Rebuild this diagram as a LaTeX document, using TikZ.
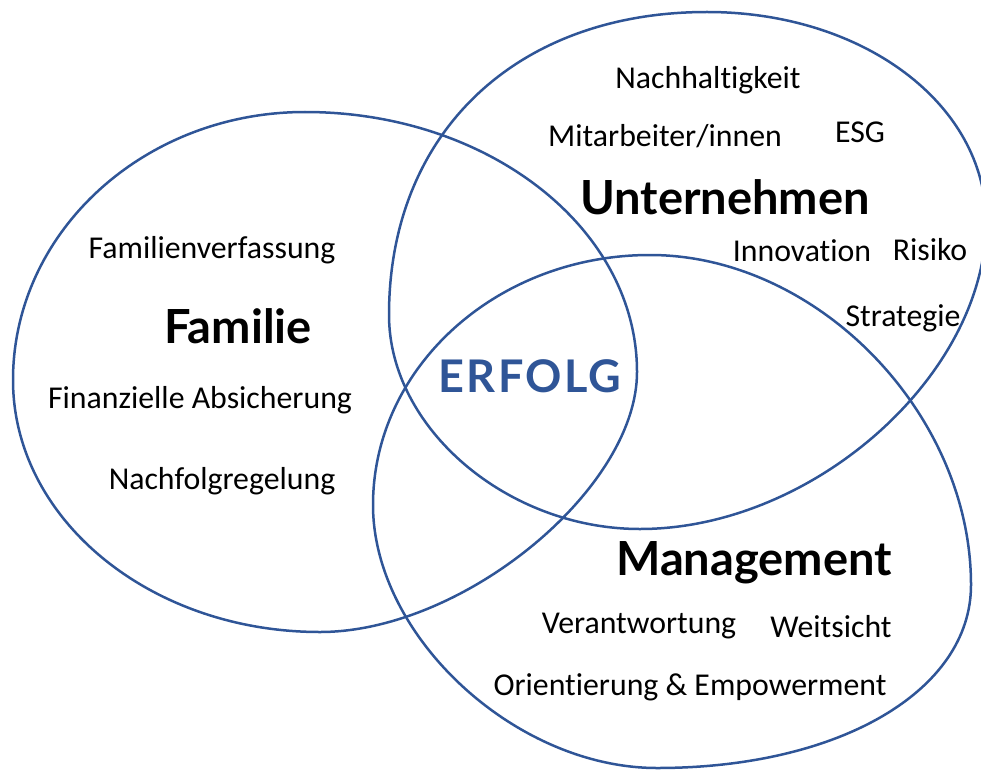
\documentclass[tikz,border=0pt]{standalone}
\usepackage{fontspec}
\setmainfont{Carlito}[Ligatures=NoCommon]
\newfontfamily\headfont{Lato}
\newfontfamily\erfolgfont{Lato}[LetterSpace=5]
\usetikzlibrary{positioning}
\definecolor{kreisblau}{RGB}{47,85,151}

\begin{document}
\begin{tikzpicture}[x=1pt,y=-1pt,
  kreis/.style={draw=kreisblau,line width=2.5pt,line join=round},
  begriff/.style={font=\fontsize{31.8}{36}\selectfont,inner sep=0pt},
  bereich/.style={font=\headfont\bfseries\fontsize{47}{52}\selectfont,inner sep=0pt}]
\useasboundingbox (0,0) rectangle (981,770);

% Familie
\draw [kreis] (13,380) .. controls (13,232) and (144,112) .. (305,112)
  .. controls (488,112) and (637,228) .. (637,372)
  .. controls (637,489) and (463,632) .. (320,632)
  .. controls (150,632) and (13,519) .. (13,380) -- cycle;
% Unternehmen
\draw [kreis] (389,315) .. controls (389,133) and (516,12) .. (707,12)
  .. controls (863,12) and (986,104) .. (986,222)
  .. controls (986,375) and (813,529) .. (640,529)
  .. controls (507,529) and (389,428) .. (389,315) -- cycle;
% Management
\draw [kreis] (373,505) .. controls (373,367) and (497,255) .. (650,255)
  .. controls (817,255) and (971,413) .. (971,585)
  .. controls (971,691) and (839,768) .. (657,768)
  .. controls (515,768) and (373,636) .. (373,505) -- cycle;

\node [bereich] (familie) at (238,326) {Familie};
\node [begriff] (verfassung) at (212,250) {Familienverfassung};
\node [begriff] (absicherung) at (200,400) {Finanzielle Absicherung};
\node [begriff] (nachfolge) at (222,481) {Nachfolgregelung};

\node [bereich] (unternehmen) at (725,197) {Unternehmen};
\node [begriff] (nachhaltig) at (708,80) {Nachhaltigkeit};
\node [begriff] (mitarbeiter) at (665,136) {Mitarbeiter/innen};
\node [begriff] (esg) at (860,132) {ESG};
\node [begriff] (innovation) at (802,251) {Innovation};
\node [begriff] (risiko) at (930,250) {Risiko};
\node [begriff] (strategie) at (903,318) {Strategie};

\node [bereich] (management) at (754,563) {Management};
\node [begriff] (verantwortung) at (639,626) {Verantwortung};
\node [begriff] (weitsicht) at (831,627) {Weitsicht};
\node [begriff] (orientierung) at (690,687) {Orientierung \& Empowerment};

\node [bereich,text=kreisblau,font=\erfolgfont\bfseries\fontsize{45}{50}\selectfont] (erfolg) at (530,376) {ERFOLG};
\end{tikzpicture}
\end{document}
